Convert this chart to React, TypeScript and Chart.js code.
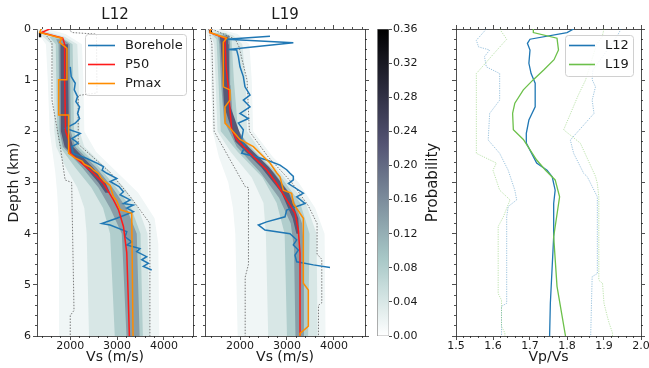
import React, { useEffect, useRef } from 'react';
import { Chart, registerables } from 'chart.js';

Chart.register(...registerables);
Chart.defaults.font.family = '"DejaVu Sans", sans-serif';
Chart.defaults.color = '#1a1a1a';

type DV = [number, number]; // [depth km, value]
type BandRow = [number, number, number]; // [depth km, left Vs, right Vs]

// ---------------- axes ----------------
const DEPTH_RANGE: DV = [0, 6];
const DEPTH_TICKS = [0, 1, 2, 3, 4, 5, 6];
const DEPTH_MINOR = [0.2, 0.4, 0.6, 0.8, 1.2, 1.4, 1.6, 1.8, 2.2, 2.4, 2.6, 2.8, 3.2, 3.4, 3.6, 3.8, 4.2, 4.4, 4.6, 4.8, 5.2, 5.4, 5.6, 5.8];
const VS_RANGE_L12: DV = [1290, 4620];
const VS_RANGE_L19: DV = [1255, 4660];
const VS_TICKS = [2000, 3000, 4000];
const VS_MINOR = [1400, 1600, 1800, 2200, 2400, 2600, 2800, 3200, 3400, 3600, 3800, 4200, 4400, 4600];
const VPVS_RANGE: DV = [1.5, 2.0];
const VPVS_TICKS = [1.5, 1.6, 1.7, 1.8, 1.9, 2.0];
const VPVS_MINOR = [1.52, 1.54, 1.56, 1.58, 1.62, 1.64, 1.66, 1.68, 1.72, 1.74, 1.76, 1.78, 1.82, 1.84, 1.86, 1.88, 1.92, 1.94, 1.96, 1.98];
const PROB_RANGE: DV = [0, 0.36];
const PROB_TICKS = [0, 0.04, 0.08, 0.12, 0.16, 0.2, 0.24, 0.28, 0.32, 0.36];

const PANEL_TITLES = ['L12', 'L19'];
const VS_SERIES = ['Borehole', 'P50', 'Pmax'];
const VPVS_SERIES = ['L12', 'L19'];

// ---------------- probability density (approximate contour bands) ----------------
const DENSITY_LEVELS = [0.015, 0.04, 0.08, 0.14, 0.22, 0.33];

const L12_BANDS: BandRow[][] = [
  [[0, 1300, 1520], [0.1, 1320, 1900], [0.3, 1480, 2250], [1.0, 1520, 2280], [2.0, 1560, 2300], [2.4, 1620, 2550], [2.8, 1680, 3000], [3.2, 1720, 3450], [3.7, 1750, 3800], [4.2, 1760, 3880], [6, 1760, 3900]],
  [[0.03, 1320, 1420], [0.15, 1420, 1880], [0.3, 1600, 2150], [1.0, 1640, 2180], [2.0, 1660, 2200], [2.3, 1700, 2300], [2.7, 1900, 2750], [3.1, 2150, 3150], [3.5, 2300, 3450], [4.0, 2350, 3650], [6, 2400, 3700]],
  [[0.15, 1550, 1800], [0.3, 1690, 2050], [2.0, 1720, 2080], [2.3, 1780, 2180], [2.7, 2100, 2620], [3.1, 2450, 2980], [3.5, 2700, 3300], [4.0, 2850, 3500], [6, 2950, 3550]],
  [[0.2, 1700, 1850], [0.3, 1750, 1990], [2.0, 1770, 2010], [2.3, 1840, 2110], [2.7, 2250, 2550], [3.1, 2600, 2900], [3.5, 2850, 3200], [4.0, 3100, 3420], [6, 3200, 3480]],
  [[0.3, 1790, 1950], [2.0, 1800, 1970], [2.3, 1880, 2060], [2.7, 2320, 2480], [3.0, 2600, 2750], [3.2, 2750, 2850]],
  [[0.08, 1330, 1380], [0.16, 1330, 1390]],
];

const L19_BANDS: BandRow[][] = [
  [[0, 1270, 1550], [0.1, 1290, 1950], [0.3, 1350, 2200], [1.0, 1380, 2250], [2.0, 1420, 2280], [2.5, 1550, 2700], [3.0, 1750, 3250], [3.5, 1850, 3600], [4.0, 1900, 3800], [6, 1950, 3820]],
  [[0.03, 1300, 1480], [0.12, 1380, 1850], [0.3, 1450, 2050], [1.0, 1480, 2120], [2.0, 1520, 2150], [2.4, 1800, 2450], [2.9, 2250, 2950], [3.4, 2500, 3400], [4.0, 2550, 3630], [6, 2600, 3650]],
  [[0.08, 1380, 1700], [0.2, 1500, 1820], [1.0, 1540, 1870], [2.0, 1590, 1960], [2.4, 1950, 2320], [2.9, 2480, 2880], [3.4, 2780, 3280], [4.0, 2950, 3480], [6, 3000, 3450]],
  [[0.12, 1530, 1770], [0.3, 1560, 1790], [1.1, 1600, 1800], [1.8, 1660, 1850], [2.3, 1930, 2180], [2.8, 2430, 2720], [3.3, 2830, 3130], [3.8, 3080, 3320], [4.3, 3150, 3360], [6, 3180, 3360]],
  [[0.15, 1570, 1750], [0.3, 1590, 1760], [1.0, 1630, 1770], [1.5, 1660, 1790], [2.2, 1900, 2060], [2.7, 2450, 2620], [3.2, 2880, 3040], [3.7, 3120, 3240], [4.0, 3200, 3260]],
  [[0.02, 1340, 1400], [0.08, 1340, 1410]],
];

// ---------------- Vs profiles ----------------
const L12_LOWER: DV[] = [[0, 1380], [0.27, 1610], [1.39, 1610], [2.3, 1787], [2.95, 1890], [3.0, 2030], [5.5, 2080], [5.6, 2000], [6, 2000]];
const L12_UPPER: DV[] = [[0, 1950], [0.07, 2050], [0.1, 2560], [1.25, 2570], [1.3, 2170], [2.25, 2170], [2.8, 2850], [3.3, 3300], [3.8, 3700], [6, 3700]];
const L12_BOREHOLE: DV[] = [[0.74, 2000], [0.93, 2020], [1.06, 2106], [1.19, 2085], [1.32, 2156], [1.42, 2120], [1.52, 2199], [1.65, 2156], [1.75, 2199], [1.84, 2106], [1.94, 1894], [2.04, 2213], [2.14, 2035], [2.23, 2170], [2.3, 2035], [2.43, 2064], [2.53, 2355], [2.62, 2567], [2.69, 2710], [2.76, 2680], [2.82, 2780], [2.92, 2993], [2.98, 2851], [3.08, 3040], [3.18, 3135], [3.24, 3064], [3.34, 3277], [3.41, 3135], [3.44, 3348], [3.5, 3206], [3.57, 3348], [3.7, 2993], [3.8, 2674], [3.83, 2851], [3.96, 3206], [4.06, 3170], [4.16, 3312], [4.22, 3206], [4.29, 3489], [4.35, 3418], [4.45, 3631], [4.51, 3525], [4.58, 3667], [4.64, 3560], [4.71, 3738]];
const L12_P50: DV[] = [[0, 1560], [0.07, 1380], [0.18, 1840], [0.3, 1880], [1.0, 1880], [2.0, 1900], [2.17, 1965], [2.43, 2000], [2.82, 2496], [3.02, 2709], [3.34, 2922], [3.53, 3028], [3.86, 3135], [4.37, 3206], [5.35, 3241], [6, 3262]];
const L12_PMAX: DV[] = [[0, 1376], [0.07, 1348], [0.18, 1823], [0.26, 1773], [0.38, 1929], [0.99, 1929], [0.99, 1752], [1.68, 1752], [1.68, 1965], [2.43, 1965], [2.52, 2100], [2.58, 2250], [2.64, 2300], [2.7, 2430], [2.76, 2500], [2.82, 2600], [2.9, 2650], [2.98, 2730], [3.06, 2850], [3.28, 2922], [3.36, 2993], [3.53, 3064], [3.6, 3312], [6, 3340]];

const L19_LOWER: DV[] = [[0, 1330], [0.27, 1400], [2.0, 1450], [2.9, 2000], [3.08, 2110], [3.1, 2180], [4.6, 2180], [4.85, 2110], [6, 2110]];
const L19_UPPER: DV[] = [[0, 1400], [0.2, 1900], [0.35, 1980], [1.0, 2150], [2.0, 2200], [2.5, 2600], [3.0, 3100], [3.45, 3450], [3.8, 3640], [4.4, 3640], [4.5, 3740], [5.35, 3740], [5.4, 3670], [6, 3670]];
const L19_BOREHOLE: DV[] = [[0.14, 2638], [0.2, 1716], [0.27, 3135], [0.4, 1752], [0.41, 1929], [0.54, 1965], [0.74, 2000], [0.93, 2071], [1.13, 2106], [1.29, 2213], [1.39, 2071], [1.52, 2213], [1.65, 2000], [1.75, 2177], [1.84, 1965], [1.97, 2071], [2.16, 2035], [2.3, 2106], [2.43, 2035], [2.5, 2355], [2.56, 2567], [2.66, 2851], [2.75, 2993], [2.82, 3064], [2.88, 3135], [2.95, 3135], [3.02, 3030], [3.21, 3348], [3.28, 3206], [3.41, 3383], [3.47, 3206], [3.54, 2993], [3.67, 2958], [3.77, 2567], [3.83, 2390], [3.93, 2531], [4.0, 3064], [4.12, 3206], [4.22, 3135], [4.32, 3241], [4.42, 3170], [4.55, 3206], [4.61, 3561], [4.66, 3915]];
const L19_P50: DV[] = [[0, 1376], [0.07, 1360], [0.18, 1681], [0.74, 1702], [1.13, 1752], [1.58, 1787], [1.97, 1823], [2.16, 1929], [2.43, 2213], [2.75, 2567], [3.02, 2780], [3.34, 2993], [3.6, 3170], [3.93, 3241], [4.38, 3277], [6, 3277]];
const L19_PMAX: DV[] = [[0, 1376], [0.07, 1360], [0.18, 1716], [0.26, 1645], [1.13, 1645], [1.19, 1787], [1.39, 1787], [1.52, 1681], [1.84, 1681], [1.95, 1800], [2.16, 2000], [2.3, 2284], [2.43, 2426], [2.62, 2638], [2.81, 2780], [2.89, 2851], [3.15, 2922], [3.21, 3099], [3.41, 3135], [3.7, 3348], [4.97, 3348], [5.1, 3454], [5.81, 3454], [5.95, 3277], [6, 3277]];

// ---------------- Vp/Vs profiles ----------------
const L12_VPVS: DV[] = [[0, 1.818], [0.07, 1.8], [0.2, 1.7], [0.28, 1.693], [0.41, 1.7], [0.67, 1.697], [0.87, 1.703], [1.06, 1.714], [1.52, 1.714], [1.78, 1.697], [2.04, 1.69], [2.23, 1.69], [2.62, 1.718], [2.76, 1.746], [2.89, 1.76], [3.15, 1.768], [3.41, 1.764], [4.06, 1.764], [5.36, 1.755], [6, 1.753]];
const L19_VPVS: DV[] = [[0, 1.709], [0.07, 1.709], [0.18, 1.773], [0.41, 1.777], [0.6, 1.765], [0.8, 1.737], [0.99, 1.709], [1.19, 1.682], [1.45, 1.659], [1.65, 1.653], [1.97, 1.655], [2.16, 1.682], [2.56, 1.718], [2.76, 1.742], [2.95, 1.768], [3.28, 1.78], [4.06, 1.764], [5.03, 1.773], [6, 1.796]];
const L12_VPVS_LOW: DV[] = [[0, 1.582], [0.22, 1.555], [0.35, 1.561], [0.41, 1.591], [0.54, 1.577], [0.74, 1.582], [0.87, 1.618], [1.39, 1.618], [1.65, 1.591], [2.17, 1.587], [2.43, 1.618], [2.76, 1.641], [3.15, 1.659], [3.34, 1.664], [3.47, 1.641], [3.67, 1.637], [5.36, 1.637], [5.42, 1.623], [6, 1.623]];
const L12_VPVS_HIGH: DV[] = [[0, 1.946], [0.12, 1.937], [0.5, 1.9], [0.8, 1.87], [0.99, 1.868], [1.13, 1.877], [1.39, 1.868], [1.65, 1.873], [2.17, 1.809], [2.43, 1.818], [2.82, 1.845], [2.89, 1.855], [3.28, 1.882], [4.78, 1.882], [4.84, 1.868], [6, 1.864]];
const L19_VPVS_LOW: DV[] = [[0, 1.618], [0.2, 1.637], [0.5, 1.6], [0.87, 1.555], [2.43, 1.555], [2.62, 1.609], [2.76, 1.6], [3.15, 1.618], [3.34, 1.646], [3.67, 1.628], [3.86, 1.614], [5.17, 1.614], [5.3, 1.623], [5.81, 1.623], [5.94, 1.632], [6, 1.632]];
const L19_VPVS_HIGH: DV[] = [[0, 1.9], [0.15, 1.895], [0.3, 1.88], [1.0, 1.85], [1.3, 1.83], [1.97, 1.791], [2.23, 1.836], [2.88, 1.877], [3.02, 1.882], [3.28, 1.886], [4.91, 1.886], [4.97, 1.896], [5.36, 1.9], [5.62, 1.909], [5.75, 1.914], [5.94, 1.923], [6, 1.923]];

// ---------------- styling ----------------
const H = 368;
const AX = '#222';
const TXT = '#1a1a1a';
const C_BORE = '#1f77b4';
const C_P50 = '#ff1a1a';
const C_PMAX = '#ff8c00';
const C_L12 = '#1f77b4';
const C_L19 = '#6cc04a';

// matplotlib "bone_r" colormap scaled to the probability range
function boneR(p: number): string {
  const t = 1 - Math.min(Math.max(p / PROB_RANGE[1], 0), 1);
  const r = t < 0.746 ? (0.652 * t) / 0.746 : 0.652 + (0.348 * (t - 0.746)) / 0.254;
  const g = t < 0.365 ? (0.319 * t) / 0.365 : t < 0.746 ? 0.319 + (0.463 * (t - 0.365)) / 0.381 : 0.782 + (0.218 * (t - 0.746)) / 0.254;
  const b = t < 0.365 ? (0.444 * t) / 0.365 : 0.444 + (0.556 * (t - 0.365)) / 0.635;
  return `rgb(${Math.round(r * 255)},${Math.round(g * 255)},${Math.round(b * 255)})`;
}

function axis(position: string, range: DV, ticks: number[], o: any = {}) {
  const horizontal = position === 'top' || position === 'bottom';
  const major = !!o.major;
  return {
    type: 'linear',
    position,
    min: range[0],
    max: range[1],
    reverse: !!o.reverse,
    weight: major ? 0 : -1,
    afterBuildTicks: (s: any) => {
      s.ticks = ticks.map((v) => ({ value: v }));
    },
    afterFit: (s: any) => {
      if (horizontal) s.height = o.size || 0;
      else s.width = o.size || 0;
      s.paddingLeft = 0;
      s.paddingRight = 0;
      s.paddingTop = 0;
      s.paddingBottom = 0;
    },
    ticks: {
      display: !!o.labels,
      autoSkip: false,
      maxRotation: 0,
      minRotation: 0,
      padding: o.tickPad ?? (horizontal ? 0 : 2),
      font: { size: 11 },
      color: TXT,
      callback: (v: number) => (o.fmt ? o.fmt(v) : String(v)),
    },
    grid: {
      display: true,
      drawOnChartArea: false,
      drawTicks: true,
      tickLength: o.tickLength ?? (major ? 4 : 2),
      color: AX,
      lineWidth: 0.8,
    },
    border: { display: major && o.border !== false, color: AX, width: 0.8 },
    title: o.title
      ? { display: true, text: o.title, font: { size: 14 }, color: TXT, padding: o.titlePad }
      : { display: false },
  };
}

function panelScales(xr: DV, xt: number[], xm: number[], xTitle: string, fmt: (v: number) => string, L: number, showY: boolean) {
  return {
    x: axis('bottom', xr, xt, { major: true, labels: true, size: 32, fmt, title: xTitle, titlePad: { top: 0, bottom: 2 } }),
    xMinor: axis('bottom', xr, xm, {}),
    xTop: axis('top', xr, xt, { major: true }),
    xTopMinor: axis('top', xr, xm, {}),
    y: axis('left', DEPTH_RANGE, DEPTH_TICKS, {
      major: true,
      labels: showY,
      size: L,
      reverse: true,
      title: showY ? 'Depth (km)' : undefined,
      titlePad: { top: 6, bottom: 0 },
    }),
    yMinor: axis('left', DEPTH_RANGE, DEPTH_MINOR, { reverse: true }),
    yRight: axis('right', DEPTH_RANGE, DEPTH_TICKS, { major: true, reverse: true }),
    yRightMinor: axis('right', DEPTH_RANGE, DEPTH_MINOR, { reverse: true }),
  };
}

const pts = (rows: DV[]) => rows.map(([d, v]) => ({ x: v, y: d }));

function lineDs(rows: DV[], color: string, width: number, order: number, label = '', dash: number[] = []) {
  return {
    label,
    data: pts(rows),
    showLine: true,
    borderColor: color,
    backgroundColor: color,
    borderWidth: width,
    borderDash: dash,
    pointRadius: 0,
    pointHoverRadius: 0,
    fill: false,
    tension: 0,
    order,
  };
}

function bandDs(band: BandRow[], level: number, order: number) {
  const left = band.map(([d, l]) => ({ x: l, y: d }));
  const right = band
    .slice()
    .reverse()
    .map(([d, , r]) => ({ x: r, y: d }));
  return {
    label: '',
    data: [...left, ...right, left[0]],
    showLine: true,
    fill: 'shape',
    backgroundColor: boneR(level),
    borderColor: 'rgba(0,0,0,0)',
    borderWidth: 0,
    pointRadius: 0,
    pointHoverRadius: 0,
    tension: 0,
    order,
  };
}

function boxLegend(id: string, g: any) {
  return {
    id,
    afterDatasetsDraw(chart: any) {
      const a = chart.chartArea;
      const items = chart.data.datasets.filter((d: any) => d.label);
      const ctx = chart.ctx;
      const x = a.right - g.dxRight - g.w;
      const y = a.top + g.dyTop;
      ctx.save();
      ctx.beginPath();
      ctx.roundRect(x + 0.5, y + 0.5, g.w, g.h, 3);
      ctx.fillStyle = 'rgba(255,255,255,0.85)';
      ctx.fill();
      ctx.strokeStyle = '#d0d0d0';
      ctx.lineWidth = 1;
      ctx.stroke();
      ctx.font = '13px "DejaVu Sans", sans-serif';
      ctx.textBaseline = 'middle';
      ctx.textAlign = 'left';
      items.forEach((d: any, i: number) => {
        const yy = y + g.rows[i];
        ctx.beginPath();
        ctx.moveTo(x + g.l0, yy);
        ctx.lineTo(x + g.l1, yy);
        ctx.strokeStyle = d.borderColor;
        ctx.lineWidth = 1.6;
        ctx.stroke();
        ctx.fillStyle = TXT;
        ctx.fillText(d.label, x + g.tx, yy + 0.5);
      });
      ctx.restore();
    },
  };
}

const baseOptions = {
  responsive: false,
  animation: false,
  events: [],
  devicePixelRatio: 1,
};

function buildVsPanel(
  title: string,
  xr: DV,
  L: number,
  width: number,
  R: number,
  showY: boolean,
  bands: BandRow[][],
  lower: DV[],
  upper: DV[],
  bore: DV[],
  p50: DV[],
  pmax: DV[],
  withLegend: boolean
) {
  const datasets: any[] = [];
  bands.forEach((b, i) => datasets.push(bandDs(b, DENSITY_LEVELS[i], 100 - i)));
  datasets.push(lineDs(lower, '#5a5a5a', 0.8, 20, '', [1.5, 1.5]));
  datasets.push(lineDs(upper, '#5a5a5a', 0.8, 20, '', [1.5, 1.5]));
  datasets.push(lineDs(bore, C_BORE, 1.5, 3, withLegend ? VS_SERIES[0] : ''));
  datasets.push(lineDs(p50, C_P50, 1.5, 2, withLegend ? VS_SERIES[1] : ''));
  datasets.push(lineDs(pmax, C_PMAX, 1.5, 1, withLegend ? VS_SERIES[2] : ''));
  return {
    type: 'scatter',
    data: { datasets },
    options: {
      ...baseOptions,
      layout: { padding: { left: 0, right: width - R, top: 0, bottom: 0 } },
      scales: panelScales(xr, VS_TICKS, VS_MINOR, 'Vs (m/s)', (v) => String(v), L, showY),
      plugins: {
        legend: { display: false },
        tooltip: { enabled: false },
        title: {
          display: true,
          text: title,
          fullSize: false,
          font: { size: 15, weight: 'normal' },
          color: TXT,
          padding: { top: 6, bottom: 5 },
        },
      },
    },
    plugins: withLegend
      ? [boxLegend('vsLegend', { w: 101, h: 61, dxRight: 7, dyTop: 5, l0: 3, l1: 30, tx: 40, rows: [11.5, 30.5, 49.5] })]
      : [],
  };
}

const buildL12 = () =>
  buildVsPanel(PANEL_TITLES[0], VS_RANGE_L12, 37, 200, 193, true, L12_BANDS, L12_LOWER, L12_UPPER, L12_BOREHOLE, L12_P50, L12_PMAX, true);
const buildL19 = () =>
  buildVsPanel(PANEL_TITLES[1], VS_RANGE_L19, 10, 175, 170, false, L19_BANDS, L19_LOWER, L19_UPPER, L19_BOREHOLE, L19_P50, L19_PMAX, false);

const probLabel = {
  id: 'probLabel',
  afterDraw(chart: any) {
    const a = chart.chartArea;
    const ctx = chart.ctx;
    ctx.save();
    ctx.translate(a.right + 44, (a.top + a.bottom) / 2);
    ctx.rotate(-Math.PI / 2);
    ctx.font = '15px "DejaVu Sans", sans-serif';
    ctx.fillStyle = TXT;
    ctx.textAlign = 'center';
    ctx.textBaseline = 'middle';
    ctx.fillText('Probability', 0, 0);
    ctx.restore();
  },
};

const buildColorbar = () => ({
  type: 'scatter',
  data: {
    datasets: [
      {
        label: '',
        data: [
          { x: 0, y: PROB_RANGE[0] },
          { x: 1, y: PROB_RANGE[0] },
          { x: 1, y: PROB_RANGE[1] },
          { x: 0, y: PROB_RANGE[1] },
          { x: 0, y: PROB_RANGE[0] },
        ],
        showLine: true,
        fill: 'shape',
        backgroundColor: (c: any) => {
          const chart = c.chart;
          const a = chart.chartArea;
          if (!a) return boneR(0.18);
          const g = chart.ctx.createLinearGradient(0, a.bottom, 0, a.top);
          for (let i = 0; i <= 24; i++) g.addColorStop(i / 24, boneR((PROB_RANGE[1] * i) / 24));
          return g;
        },
        borderColor: '#9a9a9a',
        borderWidth: 0.8,
        pointRadius: 0,
        tension: 0,
      },
    ],
  },
  options: {
    ...baseOptions,
    layout: { padding: { left: 7, right: 0, top: 29, bottom: 32 } },
    scales: {
      x: { type: 'linear', display: false, min: 0, max: 1 },
      y: axis('right', PROB_RANGE, PROB_TICKS, {
        major: true,
        labels: true,
        size: 66,
        border: false,
        tickLength: 3,
        tickPad: 1,
        fmt: (v: number) => v.toFixed(2),
      }),
    },
    plugins: { legend: { display: false }, tooltip: { enabled: false } },
  },
  plugins: [probLabel],
});

const buildVpVs = () => {
  const datasets: any[] = [
    lineDs(L12_VPVS_LOW, 'rgba(31,119,180,0.45)', 1, 20, '', [1.2, 1.2]),
    lineDs(L12_VPVS_HIGH, 'rgba(31,119,180,0.45)', 1, 20, '', [1.2, 1.2]),
    lineDs(L19_VPVS_LOW, 'rgba(108,192,74,0.45)', 1, 19, '', [1.2, 1.2]),
    lineDs(L19_VPVS_HIGH, 'rgba(108,192,74,0.45)', 1, 19, '', [1.2, 1.2]),
    lineDs(L12_VPVS, C_L12, 1.3, 2, VPVS_SERIES[0]),
    lineDs(L19_VPVS, C_L19, 1.3, 1, VPVS_SERIES[1]),
  ];
  return {
    type: 'scatter',
    data: { datasets },
    options: {
      ...baseOptions,
      layout: { padding: { left: 0, right: 213 - 205, top: 29, bottom: 0 } },
      scales: panelScales(VPVS_RANGE, VPVS_TICKS, VPVS_MINOR, 'Vp/Vs', (v) => v.toFixed(1), 20, false),
      plugins: { legend: { display: false }, tooltip: { enabled: false } },
    },
    plugins: [boxLegend('vpLegend', { w: 68, h: 41, dxRight: 8, dyTop: 6, l0: 4, l1: 30, tx: 40, rows: [10.5, 29.5] })],
  };
};

function ChartBox({ left, width, build }: { left: number; width: number; build: () => any }) {
  const ref = useRef<HTMLCanvasElement>(null);
  useEffect(() => {
    const chart = new Chart(ref.current as HTMLCanvasElement, build());
    return () => chart.destroy();
  }, []);
  return (
    <canvas
      ref={ref}
      width={width}
      height={H}
      style={{ position: 'absolute', left, top: 0, width, height: H }}
    />
  );
}

export default function App() {
  return (
    <div style={{ position: 'absolute', left: 0, top: 0, width: 649, height: H, background: '#fff', overflow: 'hidden' }}>
      <ChartBox left={0} width={200} build={buildL12} />
      <ChartBox left={195} width={175} build={buildL19} />
      <ChartBox left={370} width={85} build={buildColorbar} />
      <ChartBox left={436} width={213} build={buildVpVs} />
    </div>
  );
}
